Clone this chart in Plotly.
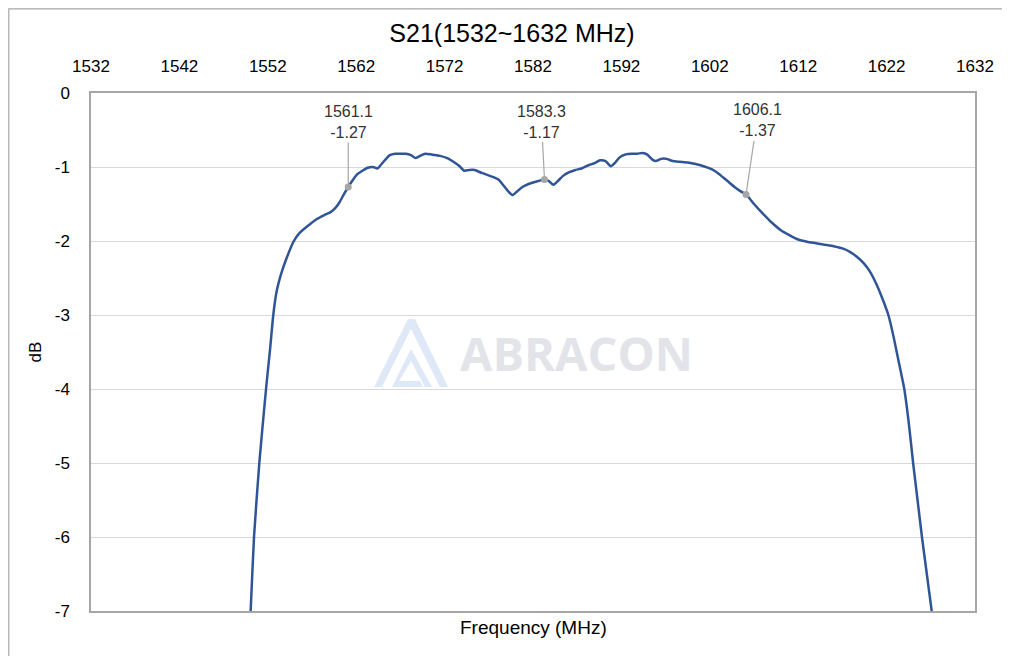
import plotly.graph_objects as go

# ---- data ----
freq_mhz = [1549.85, 1550.06, 1550.44, 1551.04, 1551.8, 1552.25, 1552.62, 1553.0, 1553.57, 1554.1,
            1554.9, 1555.6, 1556.8, 1557.6, 1558.4, 1559.1, 1559.6, 1560.1, 1560.6, 1561.1,
            1561.6, 1562.1, 1562.7, 1563.3, 1563.9, 1564.4, 1564.8, 1565.3, 1565.8, 1566.4,
            1567.0, 1567.6, 1568.2, 1568.7, 1569.2, 1569.8, 1570.5, 1571.5, 1572.3, 1573.0,
            1573.7, 1574.2, 1574.8, 1575.4, 1576.2, 1576.9, 1577.6, 1578.1, 1578.6, 1579.2,
            1579.7, 1580.2, 1580.8, 1581.5, 1582.3, 1583.3, 1583.8, 1584.3, 1584.8, 1585.4,
            1586.1, 1586.8, 1587.5, 1588.2, 1588.9, 1589.6, 1590.2, 1590.8, 1591.3, 1591.8,
            1592.5, 1593.2, 1593.8, 1594.4, 1594.9, 1595.5, 1595.9, 1596.5, 1597.1, 1597.8,
            1598.6, 1599.5, 1600.4, 1601.3, 1602.2, 1603.0, 1603.9, 1604.8, 1605.5, 1606.1,
            1607.0, 1608.0, 1609.0, 1610.0, 1611.0, 1612.0, 1613.0, 1614.0, 1615.0, 1616.0,
            1617.0, 1617.9, 1618.6, 1619.4, 1620.1, 1620.8, 1621.6, 1622.2, 1622.8, 1623.4,
            1624.0, 1624.5, 1625.0, 1625.5, 1626.0, 1626.55, 1627.1, 1627.4]
s21_db = [-7.5, -7.0, -6.0, -5.0, -4.0, -3.47, -3.0, -2.68, -2.42, -2.24,
          -2.01, -1.89, -1.77, -1.70, -1.65, -1.61, -1.56, -1.48, -1.37, -1.27,
          -1.18, -1.10, -1.05, -1.01, -1.00, -1.02, -0.97, -0.90, -0.84, -0.82,
          -0.82, -0.82, -0.84, -0.88, -0.85, -0.82, -0.83, -0.85, -0.88, -0.93,
          -0.99, -1.05, -1.04, -1.04, -1.08, -1.11, -1.14, -1.17, -1.24, -1.33,
          -1.38, -1.33, -1.27, -1.23, -1.20, -1.17, -1.19, -1.24, -1.19, -1.12,
          -1.07, -1.04, -1.02, -0.98, -0.95, -0.91, -0.92, -0.99, -0.94, -0.87,
          -0.83, -0.82, -0.82, -0.81, -0.83, -0.90, -0.92, -0.89, -0.89, -0.92,
          -0.93, -0.94, -0.96, -0.99, -1.03, -1.09, -1.18, -1.27, -1.33, -1.37,
          -1.50, -1.63, -1.75, -1.85, -1.92, -1.98, -2.01, -2.03, -2.05, -2.07,
          -2.10, -2.15, -2.21, -2.30, -2.41, -2.57, -2.80, -3.00, -3.30, -3.65,
          -4.00, -4.45, -5.00, -5.50, -6.00, -6.50, -7.00, -7.3]

marker_freq = [1561.1, 1583.3, 1606.1]
marker_db = [-1.27, -1.17, -1.37]
marker_offsets = [(0, -65), (-3, -58), (11, -74)]

x_ticks = [1532, 1542, 1552, 1562, 1572, 1582, 1592, 1602, 1612, 1622, 1632]
y_ticks = [0, -1, -2, -3, -4, -5, -6, -7]

FONT = "Liberation Sans, Arial, sans-serif"
OFF = 8                       # default page margin of the html body
W, H = 1010 - OFF, 656 - OFF  # figure size so that it fills the window
PL, PT, PR, PB = 91, 93, 975, 611   # plot area in page pixels
L, T = PL - OFF, PT - OFF
R, B = W - (PR - OFF), H - (PB - OFF)
PW, PH = PR - PL, PB - PT


def px(x):
    return (x - PL) / PW


def py(y):
    return (PB - y) / PH


fig = go.Figure()
fig.add_trace(go.Scatter(x=freq_mhz, y=s21_db, mode="lines",
                         line=dict(color="#2F5597", width=2.5, shape="spline", smoothing=0.5),
                         showlegend=False, hoverinfo="skip"))
fig.add_trace(go.Scatter(x=marker_freq, y=marker_db, mode="markers",
                         marker=dict(color="#A6A6A6", size=7), showlegend=False))

annotations = []
for f, d, (ax, ay) in zip(marker_freq, marker_db, marker_offsets):
    annotations.append(dict(x=f, y=d, xref="x", yref="y", text=f"{f:.1f}<br>{d:.2f}",
                            showarrow=True, arrowhead=0, arrowwidth=1.2, arrowcolor="#A6A6A6",
                            ax=ax, ay=ay, font=dict(family=FONT, size=16, color="#333333"),
                            align="center"))
annotations.append(dict(x=0.5, y=py(627), xref="paper", yref="paper", yanchor="middle",
                        text="Frequency (MHz)", showarrow=False,
                        font=dict(family=FONT, size=19, color="#000000")))
# watermark text
annotations.append(dict(x=px(576), y=py(353), xref="paper", yref="paper",
                        text="<b>ABRACON</b>", showarrow=False,
                        font=dict(family="Open Sans, sans-serif", size=47, color="#E3E4E9")))

shapes = [
    # outer chart border (drawn at the edge of the figure)
    dict(type="rect", xref="paper", yref="paper", x0=px(OFF + 0.8), y0=py(700), x1=px(1100),
         y1=py(OFF + 0.8), line=dict(color="#A6A6A6", width=1.2),
         fillcolor="rgba(0,0,0,0)", layer="below"),
    # watermark logo
    dict(type="path", xref="paper", yref="paper",
         path=(f"M {px(374)},{py(387)} L {px(408)},{py(319)} L {px(415)},{py(319)} "
               f"L {px(448)},{py(387)} L {px(440)},{py(387)} L {px(411)},{py(329)} "
               f"L {px(382)},{py(387)} Z"),
         line=dict(width=0), fillcolor="#DFE8F7", layer="below"),
    dict(type="path", xref="paper", yref="paper",
         path=(f"M {px(392)},{py(387)} L {px(411)},{py(349)} L {px(432)},{py(387)} "
               f"L {px(425)},{py(387)} L {px(411)},{py(361)} L {px(399)},{py(381)} "
               f"L {px(420)},{py(381)} L {px(423)},{py(387)} Z"),
         line=dict(width=0), fillcolor="#DFE8F7", layer="below"),
]

fig.update_layout(
    width=W, height=H,
    margin=dict(l=L, r=R, t=T, b=B, pad=0),
    paper_bgcolor="white", plot_bgcolor="white",
    title=dict(text="S21(1532~1632 MHz)", x=(512 - OFF) / W, xref="container", xanchor="center",
               y=1 - (33 - OFF) / H, yanchor="middle",
               font=dict(family=FONT, size=25, color="#000000")),
    annotations=annotations,
    shapes=shapes,
    xaxis=dict(side="top", range=[1532, 1632], tickvals=x_ticks, ticktext=[str(v) for v in x_ticks],
               showgrid=False, zeroline=False, showline=True, linecolor="#A6A6A6", linewidth=1.5,
               mirror=True, ticks="", ticklabelstandoff=12,
               tickfont=dict(family=FONT, size=17, color="#000000")),
    yaxis=dict(range=[-7, 0], tickvals=y_ticks, ticktext=[str(v) for v in y_ticks],
               showgrid=True, gridcolor="#D9D9D9", gridwidth=1, zeroline=False,
               showline=True, linecolor="#A6A6A6", linewidth=1.5, mirror=True, ticks="",
               ticklabelstandoff=16,
               title=dict(text="dB", font=dict(family=FONT, size=17, color="#000000"), standoff=9),
               tickfont=dict(family=FONT, size=17, color="#000000")),
)

fig.write_html("out.html")
